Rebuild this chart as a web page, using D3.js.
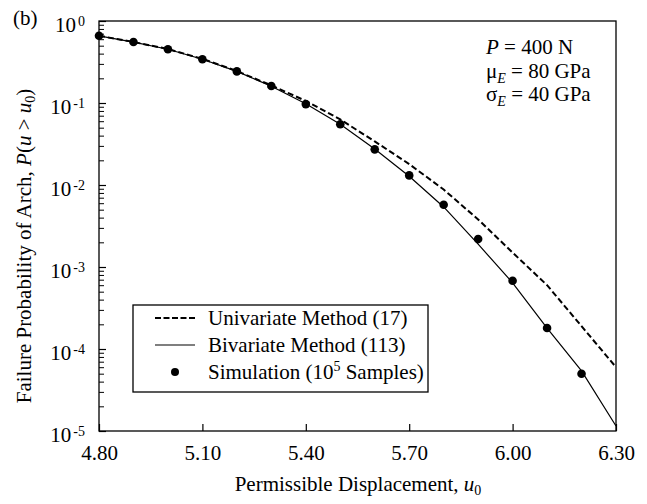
<!DOCTYPE html>
<html><head><meta charset="utf-8">
<script src="https://cdn.jsdelivr.net/npm/d3@7"></script>
<style>
body{margin:0;background:#fff;}
text{font-family:"Liberation Serif","Times New Roman",Times,serif;fill:#000;}
</style></head>
<body>
<svg id="chart" width="647" height="504"></svg>
<script>
const uValues = [4.8,4.9,5.0,5.1,5.2,5.3,5.4,5.5,5.6,5.7,5.8,5.9,6.0,6.1,6.2,6.3];
const univariate = [0.66,0.555,0.455,0.345,0.245,0.164,0.106,0.063,0.034,0.018,0.0088,0.0038,0.0015,0.0006,0.00019,0.00006];
const bivariate = [0.66,0.553,0.452,0.342,0.243,0.160,0.098,0.055,0.0275,0.0128,0.0054,0.0019,0.00064,0.00018,0.000054,0.0000115];
const simU = [4.8,4.9,5.0,5.1,5.2,5.3,5.4,5.5,5.6,5.7,5.8,5.9,6.0,6.1,6.2];
const simP = [0.662,0.554,0.452,0.341,0.243,0.161,0.097,0.055,0.0272,0.0131,0.00575,0.00219,0.00068,0.00018,0.00005];
const xTicks = [4.8,5.1,5.4,5.7,6.0,6.3];
const yExponents = [0,-1,-2,-3,-4,-5];
const legendLabels = ["Univariate Method (17)","Bivariate Method (113)","Simulation (10"];

const svg = d3.select("#chart");
const L=99,R=616,T=21,B=431;
const FS=21;
const x = d3.scaleLinear().domain([4.8,6.3]).range([L,R]);
const y = d3.scaleLog().domain([1e-5,1]).range([B,T]);

// plot-area frame
svg.append("rect").attr("x",L).attr("y",T).attr("width",R-L).attr("height",B-T)
  .attr("fill","none").attr("stroke","#000").attr("stroke-width",1.3);

// x axis (ticks inward)
const gx = svg.append("g").attr("transform",`translate(0,${B})`)
  .call(d3.axisBottom(x).tickValues(xTicks).tickSizeInner(-7).tickSizeOuter(0).tickFormat(d3.format(".2f")));
gx.select(".domain").remove();
gx.selectAll("line").attr("stroke","#000").attr("stroke-width",1.2);
gx.selectAll("text").attr("y",29).attr("dy",null).attr("font-size",FS);

// y axis minor ticks
const minor=[];
for(let e=-5;e<0;e++){for(let m=2;m<=9;m++){minor.push(m*Math.pow(10,e));}}
const gym = svg.append("g").attr("transform",`translate(${L},0)`)
  .call(d3.axisLeft(y).tickValues(minor).tickSizeInner(-5).tickSizeOuter(0).tickFormat(""));
gym.select(".domain").remove();
gym.selectAll("line").attr("stroke","#000").attr("stroke-width",1);

// y axis major ticks
const gy = svg.append("g").attr("transform",`translate(${L},0)`)
  .call(d3.axisLeft(y).tickValues(yExponents.map(e=>Math.pow(10,e))).tickSizeInner(-7).tickSizeOuter(0).tickFormat(""));
gy.select(".domain").remove();
gy.selectAll("line").attr("stroke","#000").attr("stroke-width",1.2);
gy.selectAll(".tick").each(function(d){
  const e = Math.round(Math.log10(d));
  const t = d3.select(this).append("text").attr("x",-14).attr("y",10)
    .attr("text-anchor","end").attr("font-size",FS).attr("fill","#000");
  t.append("tspan").text("10");
  t.append("tspan").attr("font-size",14).attr("dx",2).attr("dy",-6).text(e===0?"0":"-"+(-e));
});

// lines
const line = d3.line().x(d=>x(d[0])).y(d=>y(d[1]));
svg.append("path").datum(uValues.map((u,i)=>[u,univariate[i]]))
  .attr("d",line).attr("fill","none").attr("stroke","#000").attr("stroke-width",2).attr("stroke-dasharray","6,3");
svg.append("path").datum(uValues.map((u,i)=>[u,bivariate[i]]))
  .attr("d",line).attr("fill","none").attr("stroke","#000").attr("stroke-width",1.2);
svg.append("g").selectAll("circle").data(simU.map((u,i)=>[u,simP[i]])).join("circle")
  .attr("cx",d=>x(d[0])).attr("cy",d=>y(d[1])).attr("r",4.3).attr("fill","#000");

// legend
const lg = svg.append("g");
lg.append("rect").attr("x",133).attr("y",305).attr("width",295).attr("height",87)
  .attr("fill","#fff").attr("stroke","#000").attr("stroke-width",1.3);
const rowY=[318,345,372];
lg.append("line").attr("x1",155).attr("x2",195).attr("y1",rowY[0]).attr("y2",rowY[0])
  .attr("stroke","#000").attr("stroke-width",2).attr("stroke-dasharray","6,2.5");
lg.append("line").attr("x1",155).attr("x2",195).attr("y1",rowY[1]).attr("y2",rowY[1])
  .attr("stroke","#000").attr("stroke-width",1.2);
lg.append("circle").attr("cx",175).attr("cy",rowY[2]).attr("r",4).attr("fill","#000");
legendLabels.forEach((s,i)=>{
  const t=lg.append("text").attr("x",208).attr("y",rowY[i]+7).attr("font-size",FS);
  t.append("tspan").text(s);
  if(i===2){
    t.append("tspan").attr("font-size",14).attr("dy",-8).text("5");
    t.append("tspan").attr("dy",8).text(" Samples)");
  }
});

// annotation
const ann = svg.append("g").attr("font-size",FS);
let a1 = ann.append("text").attr("x",486).attr("y",54);
a1.append("tspan").attr("font-style","italic").text("P");
a1.append("tspan").text(" = 400 N");
let a2 = ann.append("text").attr("x",486).attr("y",78);
a2.append("tspan").text("μ");
a2.append("tspan").attr("font-style","italic").attr("font-size",14).attr("dy",5).text("E");
a2.append("tspan").attr("dy",-5).text(" = 80 GPa");
let a3 = ann.append("text").attr("x",486).attr("y",101);
a3.append("tspan").text("σ");
a3.append("tspan").attr("font-style","italic").attr("font-size",14).attr("dy",5).text("E");
a3.append("tspan").attr("dy",-5).text(" = 40 GPa");

// panel label
svg.append("text").attr("x",13).attr("y",25).attr("font-size",FS).text("(b)");

// axis titles
const xt = svg.append("text").attr("x",358).attr("y",491).attr("text-anchor","middle").attr("font-size",FS);
xt.append("tspan").text("Permissible Displacement, ");
xt.append("tspan").attr("font-style","italic").text("u");
xt.append("tspan").attr("font-size",14).attr("dy",4).text("0");

const yt = svg.append("text").attr("transform","translate(31,246) rotate(-90)").attr("text-anchor","middle").attr("font-size",FS);
yt.append("tspan").text("Failure Probability of Arch, ");
yt.append("tspan").attr("font-style","italic").text("P");
yt.append("tspan").text("(");
yt.append("tspan").attr("font-style","italic").text("u");
yt.append("tspan").text(" > ");
yt.append("tspan").attr("font-style","italic").text("u");
yt.append("tspan").attr("font-size",14).attr("dy",4).text("0");
yt.append("tspan").attr("dy",-4).text(")");
</script>
</body></html>
